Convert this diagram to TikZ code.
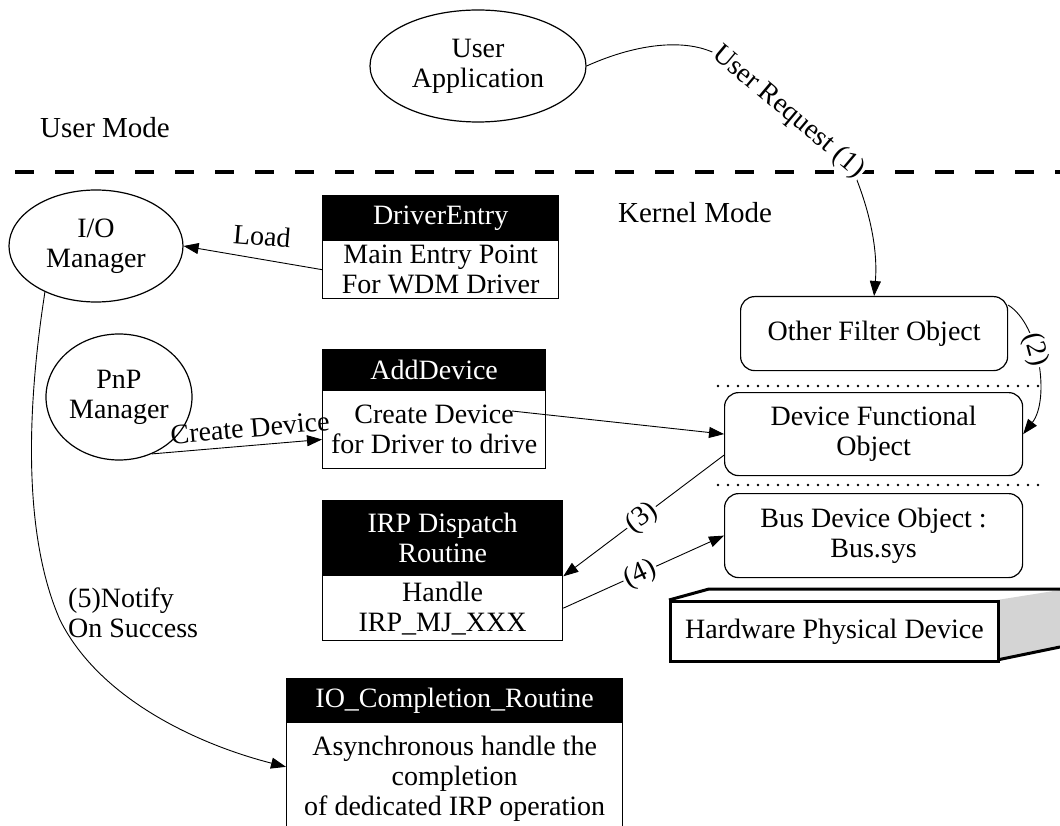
\documentclass[tikz,border=0pt]{standalone}
\usepackage{fontspec}
\setmainfont{Liberation Serif}
\usetikzlibrary{shapes.geometric,arrows.meta}
\begin{document}
\begin{tikzpicture}[x=1pt,y=-1pt,
  every node/.style={font=\fontsize{28}{30}\selectfont, align=center, inner sep=0pt},
  ell/.style={draw, ellipse, line width=1.2pt},
  hdr/.style={draw, fill=black, text=white, line width=1.3pt, anchor=north west},
  bodyrec/.style={draw, line width=1.3pt, anchor=north west},
  rbox/.style={draw, rounded corners=14pt, line width=1.2pt, anchor=north west},
  arr/.style={line width=0.9pt, -{Triangle[length=15pt,width=11pt]}},
  lbl/.style={fill=white, inner sep=1.5pt},
  sep/.style={line width=2.8pt, dash pattern=on 0pt off 10pt, line cap=round},
  mode/.style={line width=4pt, dash pattern=on 19pt off 21pt},
  hw/.style={line width=3pt, line join=miter}
]
\useasboundingbox (0,0) rectangle (1060,826);
\fill[white] (0,0) rectangle (1060,826);

% mode separation
\node[font=\fontsize{29}{32}\selectfont] (um) at (105,128) {User Mode};
\node[font=\fontsize{29}{32}\selectfont] (km) at (695,213) {Kernel Mode};
\coordinate (ml) at (15,172);
\coordinate (mr) at (1060,172);
\draw[mode] (ml) -- (mr);

% ellipses
\node[ell, minimum width=216, minimum height=112] (ua) at (478,66) {User\\Application};
\node[ell, minimum width=174, minimum height=112] (io) at (96,246) {I/O\\Manager};
\node[ell, minimum width=146, minimum height=126] (pnp) at (119,397) {PnP\\Manager};

% records
\node[hdr, minimum width=236, minimum height=45] (deh) at (322,195) {DriverEntry};
\node[bodyrec, minimum width=236, minimum height=58] (deb) at (322,240) {Main Entry Point\\For WDM Driver};

\node[hdr, minimum width=223, minimum height=41] (adh) at (322,349) {AddDevice};
\node[bodyrec, minimum width=223, minimum height=78] (adb) at (322,390) {Create Device\\for Driver to drive};

\node[hdr, minimum width=240, minimum height=75] (irh) at (322,500) {IRP Dispatch\\Routine};
\node[bodyrec, minimum width=240, minimum height=65] (irb) at (322,575) {Handle\\IRP\_MJ\_XXX};

\node[hdr, minimum width=336, minimum height=44] (ich) at (286,678) {IO\_Completion\_Routine};
\node[bodyrec, minimum width=336, minimum height=112] (icb) at (286,722) {Asynchronous handle the\\completion\\of dedicated IRP operation};

% right column
\node[rbox, minimum width=267, minimum height=74] (ofo) at (740,296) {Other Filter Object};
\node[rbox, minimum width=298, minimum height=83] (dfo) at (724,392) {Device Functional\\Object};
\node[rbox, minimum width=298, minimum height=84] (bdo) at (724,493) {Bus Device Object :\\Bus.sys};
\coordinate (d1a) at (718,386);
\coordinate (d1b) at (1042,386);
\coordinate (d2a) at (718,485);
\coordinate (d2b) at (1042,485);
\draw[sep] (d1a) -- (d1b);
\draw[sep] (d2a) -- (d2b);

% hardware box
\fill[black!17] (997,600) -- (1060,590) -- (1060,647) -- (997,660) -- cycle;
\draw[hw] (669,600) -- (709,589) -- (1060,589);
\draw[hw] (997,660) -- (1060,647);
\node[draw, hw, fill=white, minimum width=328, minimum height=60, anchor=north west] (hwd) at (669,600) {Hardware Physical Device};

% connectors
\draw[arr] (ua.east) .. controls (640,42) and (690,38) .. (720,56) .. controls (765,86) and (820,135) .. (852,168) .. controls (870,210) and (878,250) .. (ofo.north);
\node[lbl, rotate=-40] (urq) at (788,112) {User Request (1)};

\draw[arr] (ofo.12) .. controls (1040,325) and (1050,400) .. (dfo.east);
\node[lbl, rotate=-75] (l2) at (1035,350) {(2)};

\draw[arr] (deb.west) -- (io.east);
\node[rotate=-5] (ld) at (262,236) {Load};

\draw[arr] (pnp.-60) -- (adb.185);
\node[rotate=5] (lcd) at (250,428) {Create Device};

\coordinate (cdport) at (512,411);
\draw[arr] (cdport) -- (dfo.west);

\draw[arr] (dfo.188) -- (irh.south east);
\node[lbl, rotate=37] (l3) at (642,518) {(3)};

\draw[arr] (irb.east) -- (bdo.west);
\node[lbl, rotate=25] (l4) at (640,574) {(4)};

\draw[arr] (io.222) .. controls (25,420) and (25,540) .. (60,620) .. controls (100,700) and (200,745) .. (icb.176);
\node[anchor=north west, align=left] (l5) at (68,588) {(5)Notify\\On Success};
\end{tikzpicture}
\end{document}
